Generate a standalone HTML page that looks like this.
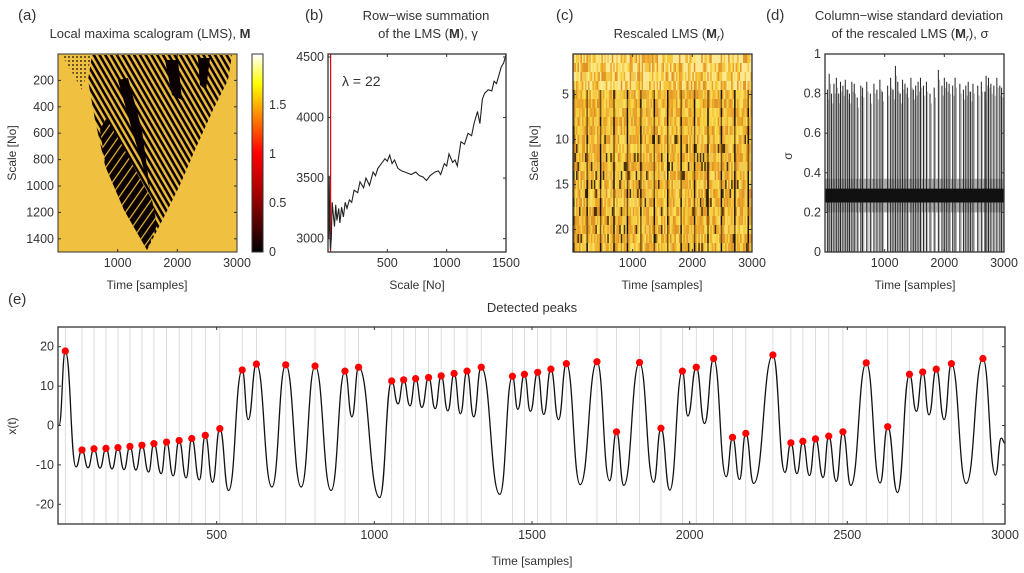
<!DOCTYPE html>
<html><head><meta charset="utf-8">
<style>
html,body{margin:0;padding:0;background:#fff;}
svg{display:block;font-family:"Liberation Sans",Arial,sans-serif;}
text{fill:#333;}
</style></head>
<body>
<svg id="fig" width="1024" height="573" viewBox="0 0 1024 573" xmlns="http://www.w3.org/2000/svg">
<defs>
  <pattern id="stripesL" width="7" height="7" patternUnits="userSpaceOnUse" patternTransform="rotate(35)">
    <rect width="7" height="7" fill="#0a0000"/><rect width="1.2" height="7" fill="#e8b838"/>
  </pattern>
  <pattern id="stripesR" width="5" height="5" patternUnits="userSpaceOnUse" patternTransform="rotate(-30)">
    <rect width="5" height="5" fill="#0a0000"/><rect width="2.4" height="5" fill="#ecbc3c"/>
  </pattern>
  <pattern id="dots" width="4" height="4" patternUnits="userSpaceOnUse">
    <rect width="4" height="4" fill="#f0c040"/><rect width="2" height="2" fill="#111"/>
  </pattern>
  <linearGradient id="hot" x1="0" y1="1" x2="0" y2="0">
    <stop offset="0" stop-color="#000"/><stop offset="0.3" stop-color="#a00"/><stop offset="0.5" stop-color="#f00"/><stop offset="0.7" stop-color="#ff9000"/><stop offset="0.85" stop-color="#ff0"/><stop offset="1" stop-color="#fff"/>
  </linearGradient>
  <clipPath id="clipA"><rect x="58" y="54" width="179" height="198"/></clipPath>
</defs>

<text x="18" y="20" font-size="15">(a)</text>
<text x="150" y="38" font-size="13" text-anchor="middle">Local maxima scalogram (LMS), <tspan font-weight="bold">M</tspan></text>
<text x="305" y="20" font-size="15">(b)</text>
<text x="426" y="20" font-size="13" text-anchor="middle">Row−wise summation</text>
<text x="428" y="38" font-size="13" text-anchor="middle">of the LMS (<tspan font-weight="bold">M</tspan>), γ</text>
<text x="556" y="20" font-size="15">(c)</text>
<text x="669" y="38" font-size="13" text-anchor="middle">Rescaled LMS (<tspan font-weight="bold">M</tspan><tspan font-size="9" dy="3" font-style="italic">r</tspan><tspan dy="-3">)</tspan></text>
<text x="766" y="20" font-size="15">(d)</text>
<text x="909" y="20" font-size="13" text-anchor="middle">Column−wise standard deviation</text>
<text x="910" y="38" font-size="13" text-anchor="middle">of the rescaled LMS (<tspan font-weight="bold">M</tspan><tspan font-size="9" dy="3" font-style="italic">r</tspan><tspan dy="-3">), σ</tspan></text>
<text x="8" y="304" font-size="15">(e)</text>
<text x="532" y="312" font-size="13" text-anchor="middle">Detected peaks</text>

<g id="pa" clip-path="url(#clipA)">
  <rect x="58" y="54" width="179" height="198" fill="#f0c040"/>
  <polygon points="62,55 92,55 82,90" fill="url(#dots)" opacity="0.6"/>
  <polygon points="92,55 232,55 228,80 213,110 195,150 180,185 165,215 147,250 127,215 105,165 95,120 88,80" fill="url(#stripesR)"/>
  <polygon points="147,250 124,210 106,168 100,130 106,118 122,145 138,175 152,200 157,225" fill="url(#stripesL)"/>
  <polygon points="118,80 128,78 142,130 150,190 144,170 132,130" fill="#0a0000"/>
  <polygon points="165,60 178,60 182,100 172,95" fill="#0a0000"/>
  <polygon points="198,58 210,58 206,90 200,85" fill="#0a0000"/>
</g>
<rect x="58" y="54" width="179" height="198" fill="none" stroke="#333" stroke-width="1"/>
<rect x="252" y="54" width="11" height="198" fill="url(#hot)" stroke="#333" stroke-width="1"/>

<g id="axes"></g>
<g id="pe"></g>
</svg>
<script>
const peakTimes = [20,73,111,149,187,225,263,301,341,381,421,464,510,581,626,719,812,907,950,1055,1093,1131,1172,1212,1253,1294,1339,1438,1476,1518,1560,1609,1706,1768,1841,1909,1977,2021,2076,2136,2178,2264,2321,2359,2399,2441,2486,2560,2628,2697,2739,2782,2830,2930];
const peakValues = [18.9,-6.2,-5.9,-5.8,-5.6,-5.3,-5.0,-4.6,-4.2,-3.8,-3.3,-2.5,-0.8,14.1,15.6,15.4,15.1,13.8,14.8,11.3,11.6,11.9,12.2,12.6,13.2,13.8,14.8,12.5,13.0,13.5,14.3,15.7,16.2,-1.6,16.0,-0.7,13.8,14.8,17.0,-3.0,-2.0,17.9,-4.4,-4.0,-3.4,-2.7,-1.6,15.9,-0.3,13.0,13.6,14.3,15.7,17.0];
const troughTimes = [0,54,92,130,168,206,244,284,324,362,403,445,487,538,600,675,768,863,929,1017,1075,1113,1151,1193,1233,1273,1315,1398,1455,1495,1537,1584,1653,1746,1791,1886,1937,1994,2047,2116,2158,2203,2302,2340,2380,2423,2465,2511,2604,2659,2719,2759,2807,2877,2970,2988,3000];
const troughValues = [0,-10.5,-10.7,-10.8,-11,-11.2,-11.3,-11.8,-12.2,-12.8,-13.3,-13.8,-14.4,-16.5,1.5,-15.6,-15.6,-16.5,2.2,-18.3,5.5,5.0,4.6,4.3,3.7,3.0,2.2,-17.5,4.1,3.6,2.8,1.5,-15,-14,-15.2,-14.4,-16.4,2.4,0.5,-13,-13.7,-14.7,-11.9,-12.2,-12.7,-13.2,-14.2,-15.2,-14.6,-17,3.6,2.7,1.5,-14.7,-12.6,-3.2,-4.5];
const eXTicks = [500,1000,1500,2000,2500,3000];
const eYTicks = [-20,-10,0,10,20];

const gammaScales = [5,10,14,20,28,35,45,55,65,75,90,100,115,130,145,160,180,200,220,250,270,300,320,350,380,400,420,450,480,500,520,540,560,590,620,650,700,740,770,800,830,860,900,930,950,980,1000,1020,1050,1070,1090,1120,1150,1180,1210,1230,1260,1280,1300,1320,1350,1380,1400,1420,1440,1460,1480,1500];
const gammaValues = [3000,3520,3100,2910,3000,3300,3200,3100,3280,3150,3250,3130,3260,3180,3300,3250,3320,3300,3400,3380,3470,3420,3500,3440,3550,3520,3580,3620,3660,3640,3690,3620,3650,3580,3560,3550,3530,3550,3520,3510,3480,3520,3550,3560,3530,3620,3600,3700,3630,3650,3600,3800,3780,3870,3850,3950,4050,3950,4150,4200,4230,4220,4300,4280,4350,4420,4450,4520];
const bXTicks = [500,1000,1500];
const bYTicks = [3000,3500,4000,4500];
const lambda = 22;

const aXTicks = [1000,2000,3000];
const aYTicks = [200,400,600,800,1000,1200,1400];
const cbTicks = [0,0.5,1,1.5];
const cYTicks = [5,10,15,20];
const cXTicks = [1000,2000,3000];
const dXTicks = [1000,2000,3000];
const dYTicks = [0,0.2,0.4,0.6,0.8,1];
const sigmaSpikeTimes = [40,70,110,150,190,230,260,300,340,380,410,450,490,540,600,630,700,760,820,870,920,960,1050,1100,1140,1180,1220,1260,1300,1340,1380,1440,1480,1520,1560,1600,1650,1700,1760,1830,1900,1960,2000,2040,2080,2140,2180,2260,2320,2360,2400,2440,2480,2560,2620,2680,2700,2740,2780,2830,2880,2930,2960];
const sigmaSpikeValues = [0.82,0.9,0.8,0.85,0.88,0.8,0.86,0.84,0.87,0.82,0.8,0.86,0.85,0.78,0.84,0.83,0.86,0.8,0.85,0.82,0.87,0.81,0.84,0.88,0.82,0.94,0.86,0.8,0.87,0.85,0.83,0.88,0.82,0.84,0.86,0.88,0.84,0.86,0.8,0.83,0.92,0.84,0.88,0.86,0.85,0.84,0.88,0.85,0.82,0.84,0.86,0.81,0.85,0.84,0.86,0.81,0.89,0.88,0.85,0.84,0.88,0.84,0.83];

const NS='http://www.w3.org/2000/svg';
function mk(tag, attrs, parent){const e=document.createElementNS(NS,tag);for(const k in attrs)e.setAttribute(k,attrs[k]);parent.appendChild(e);return e;}
const axes=document.getElementById('axes');
function lin(d0,d1,r0,r1){return v=>r0+(v-d0)*(r1-r0)/(d1-d0);}

function frame(x,y,w,h,name,parent){
  const r=mk('rect',{x:x,y:y,width:w,height:h,fill:'none',stroke:'#333','stroke-width':1.3},parent);
  
  
}
function xTicks(ticks,sx,y0,y1,name,parent,fmt){
  ticks.forEach(t=>{
    const x=sx(t);
    const l=mk('line',{x1:x,x2:x,y1:y1,y2:y1-3,stroke:'#333'},parent);
    
    
    const l2=mk('line',{x1:x,x2:x,y1:y0,y2:y0+3,stroke:'#333'},parent);
    
    
    const tx=mk('text',{x:x,y:y1+15,'font-size':12.5,'text-anchor':'middle'},parent);
    tx.textContent=fmt?fmt(t):t;
    
    
  });
}
function yTicks(ticks,sy,x0,x1,name,parent,fmt,right){
  ticks.forEach(t=>{
    const y=sy(t);
    const l=mk('line',{x1:x0,x2:x0+3,y1:y,y2:y,stroke:'#333'},parent);
    
    
    const l2=mk('line',{x1:x1,x2:x1-3,y1:y,y2:y,stroke:'#333'},parent);
    
    
    const tx=mk('text',{x:right?x1+6:x0-4,y:y+4,'font-size':12.5,'text-anchor':right?'start':'end'},parent);
    tx.textContent=fmt?fmt(t):t;
    
    
  });
}
function label(txt,x,y,rot,name,parent){
  const t=mk('text',{x:x,y:y,'font-size':12,'text-anchor':'middle'},parent);
  if(rot)t.setAttribute('transform','rotate(-90 '+x+' '+y+')');
  t.textContent=txt;
  
  
}

{
  const sx=lin(0,3000,58,237), sy=lin(0,1500,54,252);
  xTicks(aXTicks,sx,54,252,'panel-a-x',axes);
  yTicks(aYTicks,sy,58,237,'panel-a-y',axes);
  label('Time [samples]',147,289,false,'panel-a-x-title',axes);
  label('Scale [No]',16,153,true,'panel-a-y-title',axes);
  const cy=lin(0,2,252,56);
  cbTicks.forEach(t=>{
    const tx=mk('text',{x:269,y:cy(t)+4,'font-size':12.5},axes);
    tx.textContent=t;
    
    
  });
}
{
  const sx=lin(0,1500,328,506), sy=lin(2890,4500,252,57);
  const g=mk('g',{},axes);
  
  
  const rl=mk('line',{x1:sx(lambda),x2:sx(lambda),y1:54,y2:252,stroke:'#e00','stroke-width':1.2},g);
  
  
  const d=gammaScales.map((s,i)=>(i?'L':'M')+sx(s).toFixed(1)+' '+sy(gammaValues[i]).toFixed(1)).join(' ');
  const p=mk('path',{d:d,fill:'none',stroke:'#222','stroke-width':1.1},g);
  
  
  const lt=mk('text',{x:342,y:86,'font-size':14},g);
  lt.textContent='λ = '+lambda;
  
  
  frame(328,54,178,198,'panel-b-frame',axes);
  xTicks(bXTicks,sx,54,252,'panel-b-x',axes);
  yTicks(bYTicks,sy,328,506,'panel-b-y',axes);
  label('Scale [No]',417,289,false,'panel-b-x-title',axes);
}
{
  const sx=lin(0,3000,573,752), sy=lin(0.5,22.5,54,252);
  const g=mk('g',{},axes);
  
  
  const ncol=120, nrow=22;
  const pal=['#f5c838','#f0b030','#e8a028','#fbe060','#e09428','#f2c850','#f8d84c','#eaa82c','#f6d040'];
  const cw=(752-573)/ncol;
  for(let c=0;c<ncol;c++){
    const dark=((c*37)%9===0);
    for(let r=0;r<nrow;r++){
      const h=Math.abs(Math.sin(c*12.9898+r*78.233)*43758.5453)%1;
      let col=pal[Math.floor(h*pal.length)];
      if(r<4 && h>0.6) col='#fce890';
      if(dark && r>3) col = (h>0.5)?'#1a1000':'#7a5410';
      else if(r>8 && h<0.06) col='#4a3208';
      const cell=mk('rect',{x:(573+c*cw).toFixed(2),y:sy(r+0.5).toFixed(2),width:(cw+0.3).toFixed(2),height:9.1,fill:col},g);
      
      
    }
  }
  frame(573,54,179,198,'panel-c-frame',axes);
  xTicks(cXTicks,sx,54,252,'panel-c-x',axes);
  yTicks(cYTicks,sy,573,752,'panel-c-y',axes);
  label('Time [samples]',662,289,false,'panel-c-x-title',axes);
  label('Scale [No]',538,153,true,'panel-c-y-title',axes);
}
{
  const sx=lin(0,3000,825,1004), sy=lin(0,1,252,54);
  const g=mk('g',{},axes);
  
  
  const band=mk('rect',{x:825,y:sy(0.37),width:179,height:sy(0.2)-sy(0.37),fill:'#999',opacity:0.8},g);
  
  
  sigmaSpikeTimes.forEach((t,i)=>{
    const x=sx(t);
    const l=mk('line',{x1:x,x2:x,y1:sy(0),y2:sy(sigmaSpikeValues[i]),stroke:'#222','stroke-width':1},g);
    
    
    const l2=mk('line',{x1:x+1.3,x2:x+1.3,y1:sy(0),y2:sy(sigmaSpikeValues[i]-0.05),stroke:'#999','stroke-width':0.8},g);
    
    
  });
  const band2=mk('rect',{x:825,y:sy(0.32),width:179,height:sy(0.25)-sy(0.32),fill:'#111'},g);
  
  
  frame(825,54,179,198,'panel-d-frame',axes);
  xTicks(dXTicks,sx,54,252,'panel-d-x',axes);
  yTicks(dYTicks,sy,825,1004,'panel-d-y',axes);
  label('Time [samples]',915,289,false,'panel-d-x-title',axes);
  label('σ',792,156,true,'panel-d-y-title',axes);
}
{
  const pe=document.getElementById('pe');
  const sx=lin(0,3000,59,1005), sy=lin(-25,25,524,327);
  peakTimes.forEach(t=>{
    const l=mk('line',{x1:sx(t),x2:sx(t),y1:327,y2:524,stroke:'#d4d4d4','stroke-width':0.8},pe);
    
    
  });
  const pts=[];
  peakTimes.forEach((t,i)=>pts.push([t,peakValues[i]]));
  troughTimes.forEach((t,i)=>pts.push([t,troughValues[i]]));
  pts.sort((a,b)=>a[0]-b[0]);
  let d='M'+sx(pts[0][0]).toFixed(1)+' '+sy(pts[0][1]).toFixed(1);
  for(let i=1;i<pts.length;i++){
    const x0=sx(pts[i-1][0]),y0=sy(pts[i-1][1]),x1=sx(pts[i][0]),y1=sy(pts[i][1]);
    const dx=(x1-x0)*0.5;
    d+=' C'+(x0+dx).toFixed(1)+' '+y0.toFixed(1)+' '+(x1-dx).toFixed(1)+' '+y1.toFixed(1)+' '+x1.toFixed(1)+' '+y1.toFixed(1);
  }
  const sig=mk('path',{d:d,fill:'none',stroke:'#111','stroke-width':1.3},pe);
  
  
  peakTimes.forEach((t,i)=>{
    const c=mk('circle',{cx:sx(t),cy:sy(peakValues[i]),r:3.6,fill:'#f00'},pe);
    
    
  });
  frame(58,327,947,197,'panel-e-frame',pe);
  xTicks(eXTicks,sx,327,524,'panel-e-x',pe);
  yTicks(eYTicks,sy,58,1005,'panel-e-y',pe);
  label('Time [samples]',532,565,false,'panel-e-x-title',pe);
  label('x(t)',16,426,true,'panel-e-y-title',pe);
}
</script>
</body></html>
